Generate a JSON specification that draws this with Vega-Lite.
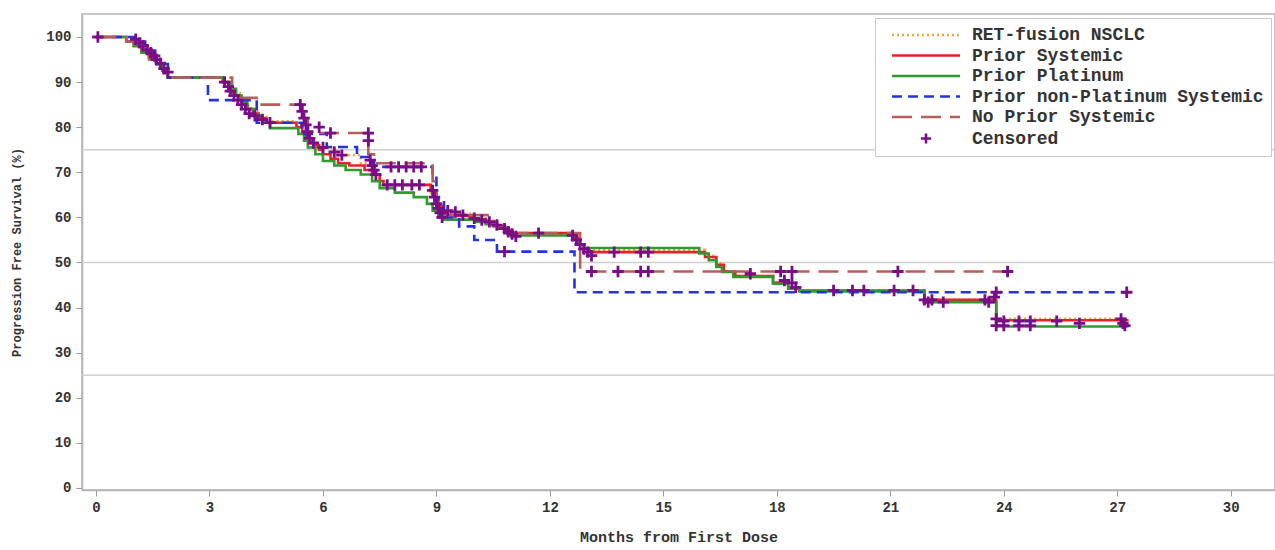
{
  "$schema": "https://vega.github.io/schema/vega-lite/v6.json",
  "width": 1193,
  "height": 476,
  "autosize": {"type": "none"},
  "padding": {"left": 82, "top": 14, "right": 0, "bottom": 60},
  "background": "white",
  "config": {
    "view": {"stroke": "#b4b4b4", "strokeWidth": 1.5},
    "font": "Liberation Mono",
    "axis": {
      "labelFont": "Liberation Mono",
      "labelFontWeight": "bold",
      "titleFont": "Liberation Mono",
      "titleFontWeight": "bold",
      "labelColor": "#333333",
      "titleColor": "#333333",
      "tickColor": "#999999",
      "domainColor": "#b4b4b4",
      "domainWidth": 1.5,
      "grid": false
    }
  },
  "datasets": {
    "grid": [{"g": 25}, {"g": 50}, {"g": 75}],
    "curves": [
      {"group": "RET-fusion NSCLC", "t": 0, "s": 100},
      {"group": "RET-fusion NSCLC", "t": 0.8, "s": 99},
      {"group": "RET-fusion NSCLC", "t": 1.0, "s": 98},
      {"group": "RET-fusion NSCLC", "t": 1.2, "s": 96.8},
      {"group": "RET-fusion NSCLC", "t": 1.4, "s": 95.8},
      {"group": "RET-fusion NSCLC", "t": 1.6, "s": 94},
      {"group": "RET-fusion NSCLC", "t": 1.75, "s": 92.7},
      {"group": "RET-fusion NSCLC", "t": 1.9, "s": 91},
      {"group": "RET-fusion NSCLC", "t": 3.35, "s": 90},
      {"group": "RET-fusion NSCLC", "t": 3.5, "s": 88.8},
      {"group": "RET-fusion NSCLC", "t": 3.65, "s": 87.5},
      {"group": "RET-fusion NSCLC", "t": 3.8, "s": 86},
      {"group": "RET-fusion NSCLC", "t": 3.95, "s": 84.8},
      {"group": "RET-fusion NSCLC", "t": 4.1, "s": 83.5},
      {"group": "RET-fusion NSCLC", "t": 4.3, "s": 82.3},
      {"group": "RET-fusion NSCLC", "t": 4.5, "s": 81.3},
      {"group": "RET-fusion NSCLC", "t": 5.3, "s": 80.2},
      {"group": "RET-fusion NSCLC", "t": 5.45, "s": 79},
      {"group": "RET-fusion NSCLC", "t": 5.55, "s": 78},
      {"group": "RET-fusion NSCLC", "t": 5.7, "s": 76.5},
      {"group": "RET-fusion NSCLC", "t": 5.85, "s": 75.5},
      {"group": "RET-fusion NSCLC", "t": 6.3, "s": 74.5},
      {"group": "RET-fusion NSCLC", "t": 6.5, "s": 73.8},
      {"group": "RET-fusion NSCLC", "t": 7.0, "s": 72},
      {"group": "RET-fusion NSCLC", "t": 7.3, "s": 70},
      {"group": "RET-fusion NSCLC", "t": 7.5, "s": 68.5},
      {"group": "RET-fusion NSCLC", "t": 7.6, "s": 67.2},
      {"group": "RET-fusion NSCLC", "t": 8.85, "s": 65.5},
      {"group": "RET-fusion NSCLC", "t": 8.95, "s": 63.5},
      {"group": "RET-fusion NSCLC", "t": 9.05, "s": 62},
      {"group": "RET-fusion NSCLC", "t": 9.2, "s": 60.8},
      {"group": "RET-fusion NSCLC", "t": 10.0, "s": 59.8},
      {"group": "RET-fusion NSCLC", "t": 10.3, "s": 59.2},
      {"group": "RET-fusion NSCLC", "t": 10.6, "s": 58.3},
      {"group": "RET-fusion NSCLC", "t": 10.8, "s": 57.2},
      {"group": "RET-fusion NSCLC", "t": 11.0, "s": 56.5},
      {"group": "RET-fusion NSCLC", "t": 12.6, "s": 55.5},
      {"group": "RET-fusion NSCLC", "t": 12.75, "s": 54},
      {"group": "RET-fusion NSCLC", "t": 12.9, "s": 52.8},
      {"group": "RET-fusion NSCLC", "t": 16.1, "s": 51.5},
      {"group": "RET-fusion NSCLC", "t": 16.35, "s": 49.8},
      {"group": "RET-fusion NSCLC", "t": 16.6, "s": 48},
      {"group": "RET-fusion NSCLC", "t": 16.9, "s": 47},
      {"group": "RET-fusion NSCLC", "t": 17.9, "s": 45.6},
      {"group": "RET-fusion NSCLC", "t": 18.3, "s": 44.5},
      {"group": "RET-fusion NSCLC", "t": 18.6, "s": 43.8},
      {"group": "RET-fusion NSCLC", "t": 21.9, "s": 41.7},
      {"group": "RET-fusion NSCLC", "t": 23.8, "s": 37.5},
      {"group": "RET-fusion NSCLC", "t": 27.3, "s": 37.5},

      {"group": "Prior Systemic", "t": 0, "s": 100},
      {"group": "Prior Systemic", "t": 0.8, "s": 99},
      {"group": "Prior Systemic", "t": 1.0, "s": 98},
      {"group": "Prior Systemic", "t": 1.2, "s": 97},
      {"group": "Prior Systemic", "t": 1.4, "s": 96},
      {"group": "Prior Systemic", "t": 1.5, "s": 95},
      {"group": "Prior Systemic", "t": 1.6, "s": 94},
      {"group": "Prior Systemic", "t": 1.7, "s": 93},
      {"group": "Prior Systemic", "t": 1.8, "s": 92},
      {"group": "Prior Systemic", "t": 1.9, "s": 91},
      {"group": "Prior Systemic", "t": 3.35, "s": 90},
      {"group": "Prior Systemic", "t": 3.5, "s": 89},
      {"group": "Prior Systemic", "t": 3.6, "s": 88},
      {"group": "Prior Systemic", "t": 3.7, "s": 87},
      {"group": "Prior Systemic", "t": 3.8, "s": 86},
      {"group": "Prior Systemic", "t": 3.9, "s": 85},
      {"group": "Prior Systemic", "t": 4.0, "s": 84},
      {"group": "Prior Systemic", "t": 4.15, "s": 83},
      {"group": "Prior Systemic", "t": 4.3, "s": 82},
      {"group": "Prior Systemic", "t": 4.5, "s": 81},
      {"group": "Prior Systemic", "t": 5.3, "s": 80},
      {"group": "Prior Systemic", "t": 5.45, "s": 79},
      {"group": "Prior Systemic", "t": 5.55, "s": 78},
      {"group": "Prior Systemic", "t": 5.65, "s": 77},
      {"group": "Prior Systemic", "t": 5.75, "s": 76},
      {"group": "Prior Systemic", "t": 5.9, "s": 75},
      {"group": "Prior Systemic", "t": 6.0, "s": 74},
      {"group": "Prior Systemic", "t": 6.2, "s": 73},
      {"group": "Prior Systemic", "t": 6.4, "s": 72},
      {"group": "Prior Systemic", "t": 6.7, "s": 71.5},
      {"group": "Prior Systemic", "t": 7.1, "s": 70.5},
      {"group": "Prior Systemic", "t": 7.3, "s": 69.5},
      {"group": "Prior Systemic", "t": 7.5, "s": 68},
      {"group": "Prior Systemic", "t": 7.6, "s": 67.2},
      {"group": "Prior Systemic", "t": 8.85, "s": 66},
      {"group": "Prior Systemic", "t": 8.95, "s": 64},
      {"group": "Prior Systemic", "t": 9.05, "s": 62.5},
      {"group": "Prior Systemic", "t": 9.15, "s": 61},
      {"group": "Prior Systemic", "t": 9.3, "s": 60.3},
      {"group": "Prior Systemic", "t": 10.0, "s": 59.6},
      {"group": "Prior Systemic", "t": 10.3, "s": 59},
      {"group": "Prior Systemic", "t": 10.6, "s": 58},
      {"group": "Prior Systemic", "t": 10.8, "s": 57},
      {"group": "Prior Systemic", "t": 11.0, "s": 56.5},
      {"group": "Prior Systemic", "t": 12.6, "s": 55.5},
      {"group": "Prior Systemic", "t": 12.75, "s": 54},
      {"group": "Prior Systemic", "t": 12.9, "s": 53},
      {"group": "Prior Systemic", "t": 13.05, "s": 52.3},
      {"group": "Prior Systemic", "t": 16.1, "s": 51.2},
      {"group": "Prior Systemic", "t": 16.4, "s": 49.5},
      {"group": "Prior Systemic", "t": 16.6, "s": 48},
      {"group": "Prior Systemic", "t": 16.9, "s": 47},
      {"group": "Prior Systemic", "t": 17.9, "s": 45.5},
      {"group": "Prior Systemic", "t": 18.3, "s": 44.5},
      {"group": "Prior Systemic", "t": 18.6, "s": 43.8},
      {"group": "Prior Systemic", "t": 21.9, "s": 41.7},
      {"group": "Prior Systemic", "t": 23.8, "s": 37.2},
      {"group": "Prior Systemic", "t": 27.3, "s": 37.2},

      {"group": "Prior Platinum", "t": 0, "s": 100},
      {"group": "Prior Platinum", "t": 0.8, "s": 99},
      {"group": "Prior Platinum", "t": 1.0, "s": 98},
      {"group": "Prior Platinum", "t": 1.2, "s": 96.5},
      {"group": "Prior Platinum", "t": 1.4, "s": 95.5},
      {"group": "Prior Platinum", "t": 1.6, "s": 94},
      {"group": "Prior Platinum", "t": 1.75, "s": 92.5},
      {"group": "Prior Platinum", "t": 1.9, "s": 91},
      {"group": "Prior Platinum", "t": 3.4, "s": 90},
      {"group": "Prior Platinum", "t": 3.55, "s": 88.5},
      {"group": "Prior Platinum", "t": 3.7, "s": 87},
      {"group": "Prior Platinum", "t": 3.85, "s": 85.5},
      {"group": "Prior Platinum", "t": 4.0, "s": 84},
      {"group": "Prior Platinum", "t": 4.2, "s": 82.5},
      {"group": "Prior Platinum", "t": 4.4, "s": 81},
      {"group": "Prior Platinum", "t": 4.6, "s": 79.8},
      {"group": "Prior Platinum", "t": 5.35, "s": 78.5},
      {"group": "Prior Platinum", "t": 5.5, "s": 77},
      {"group": "Prior Platinum", "t": 5.6, "s": 75.5},
      {"group": "Prior Platinum", "t": 5.8, "s": 74},
      {"group": "Prior Platinum", "t": 6.0, "s": 72.5},
      {"group": "Prior Platinum", "t": 6.3, "s": 71.5},
      {"group": "Prior Platinum", "t": 6.6, "s": 70.5},
      {"group": "Prior Platinum", "t": 7.0, "s": 69.5},
      {"group": "Prior Platinum", "t": 7.3, "s": 68},
      {"group": "Prior Platinum", "t": 7.5, "s": 66.5},
      {"group": "Prior Platinum", "t": 7.9, "s": 65.5},
      {"group": "Prior Platinum", "t": 8.4, "s": 64.5},
      {"group": "Prior Platinum", "t": 8.75, "s": 63},
      {"group": "Prior Platinum", "t": 8.9, "s": 61.5},
      {"group": "Prior Platinum", "t": 9.05, "s": 60},
      {"group": "Prior Platinum", "t": 9.2, "s": 59.5},
      {"group": "Prior Platinum", "t": 10.0, "s": 59},
      {"group": "Prior Platinum", "t": 10.3, "s": 58.5},
      {"group": "Prior Platinum", "t": 10.6, "s": 57.5},
      {"group": "Prior Platinum", "t": 10.8, "s": 56.5},
      {"group": "Prior Platinum", "t": 11.0, "s": 56},
      {"group": "Prior Platinum", "t": 12.6, "s": 55},
      {"group": "Prior Platinum", "t": 12.75, "s": 54},
      {"group": "Prior Platinum", "t": 12.9, "s": 53.2},
      {"group": "Prior Platinum", "t": 15.95, "s": 52},
      {"group": "Prior Platinum", "t": 16.2, "s": 50.5},
      {"group": "Prior Platinum", "t": 16.4, "s": 49},
      {"group": "Prior Platinum", "t": 16.55, "s": 47.9},
      {"group": "Prior Platinum", "t": 16.85, "s": 46.8},
      {"group": "Prior Platinum", "t": 17.9, "s": 45.3},
      {"group": "Prior Platinum", "t": 18.3, "s": 44.2},
      {"group": "Prior Platinum", "t": 18.6, "s": 43.6},
      {"group": "Prior Platinum", "t": 21.9, "s": 41.2},
      {"group": "Prior Platinum", "t": 23.8, "s": 35.8},
      {"group": "Prior Platinum", "t": 27.3, "s": 35.8},

      {"group": "Prior non-Platinum Systemic", "t": 0, "s": 100},
      {"group": "Prior non-Platinum Systemic", "t": 1.0, "s": 99},
      {"group": "Prior non-Platinum Systemic", "t": 1.3, "s": 97},
      {"group": "Prior non-Platinum Systemic", "t": 1.6, "s": 94},
      {"group": "Prior non-Platinum Systemic", "t": 1.9, "s": 91},
      {"group": "Prior non-Platinum Systemic", "t": 2.96, "s": 86},
      {"group": "Prior non-Platinum Systemic", "t": 4.25, "s": 81},
      {"group": "Prior non-Platinum Systemic", "t": 5.45, "s": 78.5},
      {"group": "Prior non-Platinum Systemic", "t": 6.1, "s": 75.6},
      {"group": "Prior non-Platinum Systemic", "t": 6.9, "s": 73.4},
      {"group": "Prior non-Platinum Systemic", "t": 7.35, "s": 71.2},
      {"group": "Prior non-Platinum Systemic", "t": 8.9, "s": 69.8},
      {"group": "Prior non-Platinum Systemic", "t": 9.0, "s": 64},
      {"group": "Prior non-Platinum Systemic", "t": 9.2, "s": 60},
      {"group": "Prior non-Platinum Systemic", "t": 9.6, "s": 58},
      {"group": "Prior non-Platinum Systemic", "t": 10.0, "s": 55},
      {"group": "Prior non-Platinum Systemic", "t": 10.6, "s": 52.4},
      {"group": "Prior non-Platinum Systemic", "t": 12.65, "s": 43.4},
      {"group": "Prior non-Platinum Systemic", "t": 27.25, "s": 43.4},

      {"group": "No Prior Systemic", "t": 0, "s": 100},
      {"group": "No Prior Systemic", "t": 0.8, "s": 99},
      {"group": "No Prior Systemic", "t": 1.1, "s": 97},
      {"group": "No Prior Systemic", "t": 1.4, "s": 95},
      {"group": "No Prior Systemic", "t": 1.7, "s": 93},
      {"group": "No Prior Systemic", "t": 1.9, "s": 91},
      {"group": "No Prior Systemic", "t": 3.6, "s": 86.5},
      {"group": "No Prior Systemic", "t": 4.3, "s": 85},
      {"group": "No Prior Systemic", "t": 5.45, "s": 82},
      {"group": "No Prior Systemic", "t": 5.6, "s": 78.7},
      {"group": "No Prior Systemic", "t": 7.2, "s": 74},
      {"group": "No Prior Systemic", "t": 7.35, "s": 72},
      {"group": "No Prior Systemic", "t": 8.9, "s": 68},
      {"group": "No Prior Systemic", "t": 9.0, "s": 63},
      {"group": "No Prior Systemic", "t": 9.2, "s": 60.5},
      {"group": "No Prior Systemic", "t": 10.5, "s": 58},
      {"group": "No Prior Systemic", "t": 11.0, "s": 56.5},
      {"group": "No Prior Systemic", "t": 12.8, "s": 48},
      {"group": "No Prior Systemic", "t": 24.1, "s": 48}
    ],
    "censored": [
      {"group": "Censored", "t": 0.05, "s": 100},
      {"group": "Censored", "t": 1.05, "s": 99.5},
      {"group": "Censored", "t": 1.15, "s": 98.7},
      {"group": "Censored", "t": 1.25, "s": 98},
      {"group": "Censored", "t": 1.35, "s": 97.2},
      {"group": "Censored", "t": 1.45, "s": 96.5},
      {"group": "Censored", "t": 1.55, "s": 95.8},
      {"group": "Censored", "t": 1.6, "s": 95},
      {"group": "Censored", "t": 1.7, "s": 94.2},
      {"group": "Censored", "t": 1.8, "s": 93},
      {"group": "Censored", "t": 1.9, "s": 92.2},
      {"group": "Censored", "t": 3.4, "s": 90},
      {"group": "Censored", "t": 3.5, "s": 89},
      {"group": "Censored", "t": 3.55, "s": 88},
      {"group": "Censored", "t": 3.65, "s": 87},
      {"group": "Censored", "t": 3.75, "s": 86},
      {"group": "Censored", "t": 3.85, "s": 85},
      {"group": "Censored", "t": 3.95, "s": 84},
      {"group": "Censored", "t": 4.05, "s": 83},
      {"group": "Censored", "t": 4.2, "s": 82.5},
      {"group": "Censored", "t": 4.4, "s": 81.7},
      {"group": "Censored", "t": 4.6, "s": 81},
      {"group": "Censored", "t": 5.4, "s": 85},
      {"group": "Censored", "t": 5.45, "s": 83.5},
      {"group": "Censored", "t": 5.5, "s": 82},
      {"group": "Censored", "t": 5.55, "s": 80.5},
      {"group": "Censored", "t": 5.6, "s": 79},
      {"group": "Censored", "t": 5.65, "s": 77.5},
      {"group": "Censored", "t": 5.75, "s": 76.5},
      {"group": "Censored", "t": 5.9, "s": 80},
      {"group": "Censored", "t": 6.0, "s": 75.5},
      {"group": "Censored", "t": 6.2, "s": 78.7},
      {"group": "Censored", "t": 6.3, "s": 74.5},
      {"group": "Censored", "t": 6.5, "s": 73.8},
      {"group": "Censored", "t": 7.2, "s": 78.7},
      {"group": "Censored", "t": 7.2, "s": 77},
      {"group": "Censored", "t": 7.25, "s": 72.7},
      {"group": "Censored", "t": 7.3, "s": 71.5},
      {"group": "Censored", "t": 7.35, "s": 70.5},
      {"group": "Censored", "t": 7.4, "s": 69.5},
      {"group": "Censored", "t": 7.8, "s": 71.2},
      {"group": "Censored", "t": 8.0, "s": 71.2},
      {"group": "Censored", "t": 8.2, "s": 71.2},
      {"group": "Censored", "t": 8.4, "s": 71.2},
      {"group": "Censored", "t": 8.6, "s": 71.2},
      {"group": "Censored", "t": 7.7, "s": 67.2},
      {"group": "Censored", "t": 7.9, "s": 67.2},
      {"group": "Censored", "t": 8.1, "s": 67.2},
      {"group": "Censored", "t": 8.35, "s": 67.2},
      {"group": "Censored", "t": 8.55, "s": 67.2},
      {"group": "Censored", "t": 8.9, "s": 66},
      {"group": "Censored", "t": 8.95, "s": 64.5},
      {"group": "Censored", "t": 9.0, "s": 63},
      {"group": "Censored", "t": 9.05, "s": 62},
      {"group": "Censored", "t": 9.1, "s": 61},
      {"group": "Censored", "t": 9.15, "s": 60},
      {"group": "Censored", "t": 9.3, "s": 61.5},
      {"group": "Censored", "t": 9.5, "s": 61.2},
      {"group": "Censored", "t": 9.7, "s": 60.5},
      {"group": "Censored", "t": 10.0, "s": 59.8},
      {"group": "Censored", "t": 10.2, "s": 59.4},
      {"group": "Censored", "t": 10.4, "s": 59},
      {"group": "Censored", "t": 10.6, "s": 58.3},
      {"group": "Censored", "t": 10.8, "s": 57.5},
      {"group": "Censored", "t": 10.9, "s": 56.8},
      {"group": "Censored", "t": 11.0, "s": 56.3},
      {"group": "Censored", "t": 11.1, "s": 55.8},
      {"group": "Censored", "t": 10.8, "s": 52.4},
      {"group": "Censored", "t": 11.7, "s": 56.5},
      {"group": "Censored", "t": 12.6, "s": 56},
      {"group": "Censored", "t": 12.7, "s": 55},
      {"group": "Censored", "t": 12.8, "s": 54},
      {"group": "Censored", "t": 12.9, "s": 53},
      {"group": "Censored", "t": 13.0, "s": 52.3},
      {"group": "Censored", "t": 13.1, "s": 51.5},
      {"group": "Censored", "t": 13.7, "s": 52.3},
      {"group": "Censored", "t": 14.4, "s": 52.3},
      {"group": "Censored", "t": 14.6, "s": 52.3},
      {"group": "Censored", "t": 13.1, "s": 48},
      {"group": "Censored", "t": 13.8, "s": 48},
      {"group": "Censored", "t": 14.4, "s": 48},
      {"group": "Censored", "t": 14.6, "s": 48},
      {"group": "Censored", "t": 17.3, "s": 47.5},
      {"group": "Censored", "t": 18.1, "s": 48},
      {"group": "Censored", "t": 18.4, "s": 48},
      {"group": "Censored", "t": 21.2, "s": 48},
      {"group": "Censored", "t": 24.1, "s": 48},
      {"group": "Censored", "t": 18.2, "s": 46},
      {"group": "Censored", "t": 18.4, "s": 45.5},
      {"group": "Censored", "t": 18.5, "s": 44.5},
      {"group": "Censored", "t": 19.5, "s": 43.8},
      {"group": "Censored", "t": 20.0, "s": 43.8},
      {"group": "Censored", "t": 20.3, "s": 43.8},
      {"group": "Censored", "t": 21.1, "s": 43.8},
      {"group": "Censored", "t": 21.6, "s": 43.8},
      {"group": "Censored", "t": 21.9, "s": 41.7},
      {"group": "Censored", "t": 22.0, "s": 41.2},
      {"group": "Censored", "t": 22.1, "s": 41.7},
      {"group": "Censored", "t": 22.4, "s": 41.2},
      {"group": "Censored", "t": 23.5, "s": 41.7},
      {"group": "Censored", "t": 23.6, "s": 41.2},
      {"group": "Censored", "t": 23.75, "s": 42.3},
      {"group": "Censored", "t": 23.8, "s": 43.4},
      {"group": "Censored", "t": 27.25, "s": 43.4},
      {"group": "Censored", "t": 23.8, "s": 37.5},
      {"group": "Censored", "t": 23.8, "s": 36},
      {"group": "Censored", "t": 24.0, "s": 37},
      {"group": "Censored", "t": 24.0, "s": 36},
      {"group": "Censored", "t": 24.4, "s": 37},
      {"group": "Censored", "t": 24.4, "s": 36},
      {"group": "Censored", "t": 24.7, "s": 37},
      {"group": "Censored", "t": 24.7, "s": 36},
      {"group": "Censored", "t": 25.4, "s": 37},
      {"group": "Censored", "t": 26.0, "s": 36.5},
      {"group": "Censored", "t": 27.1, "s": 37.5},
      {"group": "Censored", "t": 27.15, "s": 36.5},
      {"group": "Censored", "t": 27.2, "s": 36}
    ]
  },
  "layer": [
    {
      "data": {"name": "grid"},
      "mark": {"type": "rule", "color": "#d0d0d0", "strokeWidth": 1.5},
      "encoding": {
        "y": {"field": "g", "type": "quantitative", "scale": {"domain": [-0.45, 105.1], "nice": false, "zero": false}}
      }
    },
    {
      "data": {"name": "curves"},
      "mark": {"type": "line", "interpolate": "step-after", "strokeWidth": 2.6},
      "encoding": {
        "x": {
          "field": "t", "type": "quantitative",
          "scale": {"domain": [-0.37, 31.17], "nice": false, "zero": false},
          "axis": {"values": [0, 3, 6, 9, 12, 15, 18, 21, 24, 27, 30], "title": "Months from First Dose", "labelFontSize": 14, "titleFontSize": 15, "tickSize": 6, "labelPadding": 4, "titlePadding": 15}
        },
        "y": {
          "field": "s", "type": "quantitative",
          "scale": {"domain": [-0.45, 105.1], "nice": false, "zero": false},
          "axis": {"values": [0, 10, 20, 30, 40, 50, 60, 70, 80, 90, 100], "title": "Progression Free Survival (%)", "labelFontSize": 14, "titleFontSize": 12, "tickSize": 6, "labelPadding": 5, "titlePadding": 22}
        },
        "color": {
          "field": "group", "type": "nominal",
          "scale": {
            "domain": ["RET-fusion NSCLC", "Prior Systemic", "Prior Platinum", "Prior non-Platinum Systemic", "No Prior Systemic", "Censored"],
            "range": ["#f2a535", "#e8202a", "#2f9a2f", "#2433dd", "#b85c5c", "#7a0c88"]
          },
          "legend": {
            "orient": "top-right", "offset": 4, "title": null,
            "labelFont": "Liberation Mono", "labelFontWeight": "bold", "labelFontSize": 18, "labelColor": "#333333", "labelLimit": 400,
            "symbolSize": 289, "symbolStrokeWidth": 2.6, "labelOffset": 70,
            "padding": 7, "rowPadding": 1.5, "strokeColor": "#c8c8c8", "fillColor": "white",
            "encode": {"symbols": {"update": {"shape": {"signal": "datum.value === 'Censored' ? 'M3.4,0H4.6M4,-0.6V0.6' : 'M0,0H8'"}}}}
          }
        },
        "strokeDash": {
          "field": "group", "type": "nominal",
          "scale": {
            "domain": ["RET-fusion NSCLC", "Prior Systemic", "Prior Platinum", "Prior non-Platinum Systemic", "No Prior Systemic", "Censored"],
            "range": [[2, 3], [1, 0], [1, 0], [10, 6], [20, 9], [1, 0]]
          }
        }
      }
    },
    {
      "data": {"name": "censored"},
      "mark": {"type": "point", "shape": "M-1,0H1M0,-1V1", "size": 130, "filled": false, "strokeWidth": 2.8, "opacity": 1},
      "encoding": {
        "x": {"field": "t", "type": "quantitative"},
        "y": {"field": "s", "type": "quantitative"},
        "color": {"field": "group", "type": "nominal"}
      }
    }
  ]
}
